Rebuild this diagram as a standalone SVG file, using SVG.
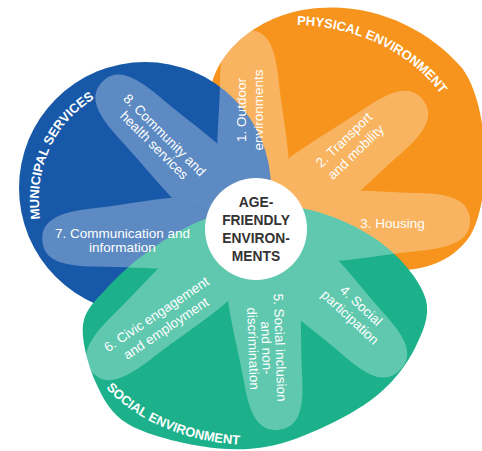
<svg xmlns="http://www.w3.org/2000/svg" width="482" height="451" viewBox="0 0 482 451">
<style>
.t{font-family:"Liberation Sans",Arial,sans-serif;fill:#fff}
.lbl{font-size:13.5px;text-anchor:middle}
.ring{font-size:13px;font-weight:bold}
.ctr{font-family:"Liberation Sans",Arial,sans-serif;font-size:15px;font-weight:bold;fill:#333;text-anchor:middle}
.pf{fill:#fff;fill-opacity:.3}
</style>
<defs>
<path id="petal" d="M0,0 C0,-25 30,-36 62,-36 C95,-36 125,-31 160,-29 C192,-27 210,-20 210,0 C210,20 192,27 160,29 C125,31 95,36 62,36 C30,36 0,25 0,0Z"/>
<clipPath id="w1"><polygon points="0,0 371.3,-148.9 420,0 355,184.4"/></clipPath>
<clipPath id="w2"><polygon points="0,0 355,-184.4 420,0 381.3,121"/></clipPath>
<clipPath id="w3"><polygon points="0,0 381.3,-121 420,0 367,159.2"/></clipPath>
<clipPath id="w4"><polygon points="0,0 367,-159.2 420,0 376.9,133.8"/></clipPath>
<clipPath id="w5"><polygon points="0,0 376.9,-133.8 420,0 354.2,185.9"/></clipPath>
<clipPath id="w6"><polygon points="0,0 354.2,-185.9 420,0 378.1,130.6"/></clipPath>
<clipPath id="w7"><polygon points="0,0 378.1,-130.6 420,0 367.2,158.5"/></clipPath>
<clipPath id="w8"><polygon points="0,0 367.2,-158.5 420,0 371.3,148.9"/></clipPath>
<path id="pPhys" d="M297,25 C352,26 412,50 445,100"/>
<path id="pMun" d="M40,219 C34,170 52,122 99,96"/>
<path id="pSoc" d="M106,388 C140,424 190,443 248,445"/>
</defs>

<g id="physical-environment">
<path fill="#F7941D" d="M210,95 C214,50 262,12 318,8 C375,3 430,30 462,68 C490,105 492,200 470,236 C455,258 430,270 400,270 L330,255 L255,215 L215,150 Z"/>
<text class="t ring"><textPath href="#pPhys">PHYSICAL ENVIRONMENT</textPath></text>
</g>

<g id="municipal-services">
<circle cx="145" cy="188" r="126" fill="#1858A8"/>
<text class="t ring"><textPath href="#pMun">MUNICIPAL SERVICES</textPath></text>
</g>

<g id="social-environment">
<path fill="#1CB18B" d="M83,325 C84.8,309.2 95.8,300.5 107,288 C118.2,275.5 133.7,261.5 150,250 C166.3,238.5 185,226.5 205,219 C225,211.5 248.7,205.3 270,205 C291.3,204.7 313,209.5 333,217 C353,224.5 374.5,236.2 390,250 C405.5,263.8 421.8,283.7 426,300 C430.2,316.3 422.5,332.7 415,348 C407.5,363.3 395.5,379.2 381,392 C366.5,404.8 347.3,415.8 328,425 C308.7,434.2 286.3,443.5 265,447 C243.7,450.5 222.8,449.8 200,446 C177.2,442.2 145.3,434.5 128,424 C110.7,413.5 103.5,399.5 96,383 C88.5,366.5 81.2,340.8 83,325 Z"/>
<text class="t ring"><textPath href="#pSoc">SOCIAL ENVIRONMENT</textPath></text>
</g>

<g id="connectors"/>

<g id="petal-1">
<g transform="translate(256 229) rotate(-92.6)" clip-path="url(#w1)"><use href="#petal" class="pf" transform="scale(.948 1)"/></g>
<text class="t lbl" transform="translate(250 110) rotate(-90)"><tspan x="0" y="-4.5">1. Outdoor</tspan><tspan x="0" y="13.3">environments</tspan></text>
</g>

<g id="petal-2">
<g transform="translate(256 229) rotate(-37.7)" clip-path="url(#w2)"><use href="#petal" class="pf" transform="scale(1.005 1)"/></g>
<text class="t lbl" transform="translate(350 146) rotate(-44)"><tspan x="0" y="-4">2. Transport</tspan><tspan x="0" y="13">and mobility</tspan></text>
</g>

<g id="petal-3">
<g transform="translate(256 229) rotate(-2.5)" clip-path="url(#w3)"><use href="#petal" class="pf" transform="scale(1.02 1)"/></g>
<text class="t lbl" x="392.5" y="227.5">3. Housing</text>
</g>

<g id="petal-4">
<g transform="translate(256 229) rotate(44.4)" clip-path="url(#w4)"><use href="#petal" class="pf" transform="scale(.96 1)"/></g>
<text class="t lbl" transform="translate(355.5 311.5) rotate(43)"><tspan x="0" y="-3.5">4. Social</tspan><tspan x="0" y="12.5">participation</tspan></text>
</g>

<g id="petal-5">
<g transform="translate(256 229) rotate(83.5)" clip-path="url(#w5)"><use href="#petal" class="pf" transform="scale(.962 1)"/></g>
<text class="t lbl" transform="translate(267 348) rotate(88)"><tspan x="0" y="-8.5">5. Social inclusion</tspan><tspan x="0" y="5">and non-</tspan><tspan x="0" y="18.5">discrimination</tspan></text>
</g>

<g id="petal-6">
<g transform="translate(256 229) rotate(138.9)" clip-path="url(#w6)"><use href="#petal" class="pf" transform="scale(1.036 1)"/></g>
<text class="t lbl" transform="translate(161 321) rotate(-34)"><tspan x="0" y="-3.5">6. Civic engagement</tspan><tspan x="0" y="13.5">and employment</tspan></text>
</g>

<g id="petal-7">
<g transform="translate(256 229) rotate(177)" clip-path="url(#w7)"><use href="#petal" class="pf" transform="scale(1.019 1)"/></g>
<text class="t lbl"><tspan x="122.5" y="238">7. Communication and</tspan><tspan x="122.5" y="251.5">information</tspan></text>
</g>

<g id="petal-8">
<g transform="translate(256 229) rotate(-136.3)" clip-path="url(#w8)"><use href="#petal" class="pf" transform="scale(1.014 1)"/></g>
<text class="t lbl" transform="translate(159.5 140) rotate(45)"><tspan x="0" y="-2.5">8. Community and</tspan><tspan x="0" y="12">health services</tspan></text>
</g>

<g id="age-friendly-environments">
<circle cx="256" cy="229" r="51" fill="#fff"/>
<g transform="translate(256 0) scale(.92 1)">
<text class="ctr"><tspan x="0" y="207.5">AGE-</tspan><tspan x="0" y="225.5">FRIENDLY</tspan><tspan x="0" y="243.5">ENVIRON-</tspan><tspan x="0" y="261">MENTS</tspan></text>
</g>
</g>
</svg>
